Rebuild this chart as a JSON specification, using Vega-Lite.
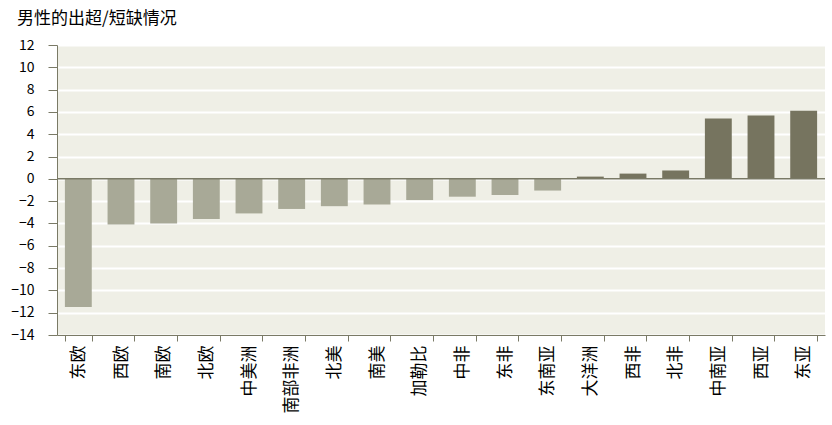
{
  "$schema": "https://vega.github.io/schema/vega-lite/v6.json",
  "width": 768,
  "height": 290,
  "autosize": {"type": "none"},
  "padding": {"left": 57, "top": 45, "right": 7, "bottom": 90},
  "background": "#ffffff",
  "title": {"text": "男性的出超/短缺情况", "anchor": "start", "frame": "group", "dx": -40, "offset": 10, "fontSize": 17, "fontWeight": "normal", "font": "Noto Sans CJK SC", "color": "#000000"},
  "config": {
    "view": {"fill": "#efefe6", "stroke": null},
    "font": "Noto Sans CJK SC"
  },
  "data": {
    "values": [
      {"region": "东欧", "value": -11.5},
      {"region": "西欧", "value": -4.1},
      {"region": "南欧", "value": -4.0},
      {"region": "北欧", "value": -3.6},
      {"region": "中美洲", "value": -3.1},
      {"region": "南部非洲", "value": -2.7},
      {"region": "北美", "value": -2.45},
      {"region": "南美", "value": -2.3},
      {"region": "加勒比", "value": -1.9},
      {"region": "中非", "value": -1.6},
      {"region": "东非", "value": -1.45},
      {"region": "东南亚", "value": -1.05},
      {"region": "大洋洲", "value": 0.2},
      {"region": "西非", "value": 0.47},
      {"region": "北非", "value": 0.75},
      {"region": "中南亚", "value": 5.4},
      {"region": "西亚", "value": 5.68},
      {"region": "东亚", "value": 6.1}
    ]
  },
  "encoding": {
    "y": {
      "field": "value", "type": "quantitative",
      "scale": {"domain": [-14, 12], "nice": false},
      "axis": {
        "title": null, "values": [-14, -12, -10, -8, -6, -4, -2, 0, 2, 4, 6, 8, 10, 12],
        "labelFontSize": 14, "labelColor": "#000000", "labelPadding": 14, "labelOverlap": false,
        "labelFlush": false,
        "domainColor": "#7a7a66", "tickColor": "#7a7a66", "tickSize": 9,
        "gridColor": "#ffffff", "gridWidth": 2
      }
    }
  },
  "layer": [
    {
      "mark": {"type": "bar"},
      "encoding": {
        "x": {
          "field": "region", "type": "nominal", "sort": null,
          "scale": {"paddingInner": 0.37, "paddingOuter": 0.185},
          "axis": {
            "title": null, "labelAngle": -90, "labelFontSize": 17, "labelColor": "#000000",
            "domainColor": "#7a7a66", "tickColor": "#7a7a66", "tickBand": "extent", "tickSize": 6,
            "labelPadding": 4, "grid": false, "labelOverlap": false
          }
        },
        "color": {
          "condition": {"test": "datum.value > 0", "value": "#76745f"},
          "value": "#a8a997"
        }
      }
    },
    {
      "mark": {"type": "rule", "color": "#7a7a66", "strokeWidth": 1.5},
      "transform": [{"filter": "datum.region == '东欧'"}],
      "encoding": {"y": {"datum": 0, "type": "quantitative"}}
    }
  ]
}
